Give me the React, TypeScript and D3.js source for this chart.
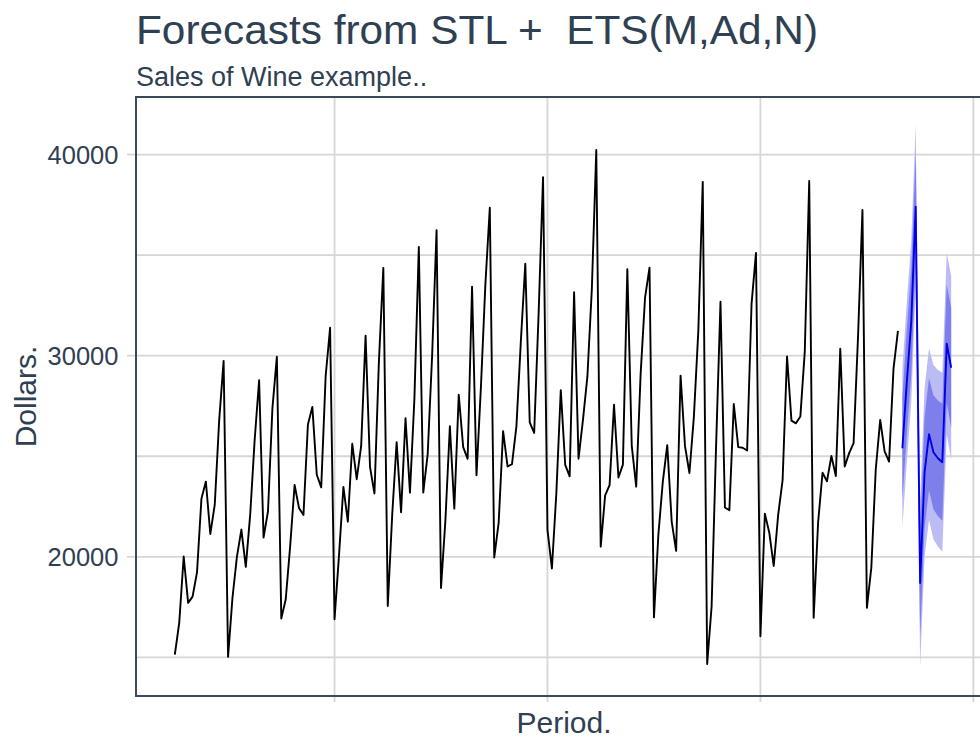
import React from "react";
import * as d3 from "d3";

// Monthly wine sales, Jan 1980 – Aug 1993
const START_YEAR = 1980;
const sales: number[] = [
  15136, 16733, 20016, 17708, 18019, 19227, 22893, 23739, 21133, 22591, 26786, 29740,
  15028, 17977, 20008, 21354, 19498, 22125, 25817, 28779, 20960, 22254, 27392, 29945,
  16933, 17892, 20533, 23569, 22417, 22084, 26580, 27454, 24081, 23451, 28991, 31386,
  16896, 20045, 23471, 21747, 25621, 23859, 25500, 30998, 24475, 23145, 29701, 34365,
  17556, 22077, 25702, 22214, 26886, 23191, 27831, 35406, 23195, 25110, 30009, 36242,
  18450, 21845, 26488, 22394, 28057, 25451, 24872, 33424, 24052, 28449, 33533, 37351,
  19969, 21701, 26249, 24493, 24603, 26485, 30723, 34569, 26689, 26157, 32064, 38870,
  21337, 19419, 23166, 28286, 24570, 24001, 33151, 24878, 26804, 28967, 33311, 40226,
  20504, 23060, 23562, 27562, 23940, 24584, 34303, 25517, 23494, 29095, 32903, 34379,
  16991, 21109, 23740, 25552, 21752, 20294, 29009, 25500, 24166, 26960, 31222, 38641,
  14672, 17543, 25453, 32683, 22449, 22316, 27595, 25451, 25421, 25288, 32568, 35110,
  16052, 22146, 21198, 19543, 22084, 23816, 29961, 26773, 26635, 26972, 30207, 38687,
  16974, 21697, 24179, 23757, 25013, 24019, 30345, 24488, 25156, 25650, 30923, 37240,
  17466, 19463, 24352, 26805, 25236, 24735, 29356, 31234,
];

// Forecasts Sep 1993 – Aug 1994
const fcMean: number[] = [25400, 28700, 31700, 37400, 18700, 24200, 26100, 25200, 24900, 24700, 30600, 29400];
const lo80: number[] = [22840, 26100, 29060, 34720, 15990, 21450, 23310, 22370, 22030, 21790, 27660, 26420];
const hi80: number[] = [27960, 31300, 34340, 40080, 21410, 26950, 28890, 28030, 27770, 27610, 33540, 32380];
const lo95: number[] = [21480, 24720, 27660, 33300, 14540, 19990, 21830, 20870, 20510, 20250, 26090, 24830];
const hi95: number[] = [29320, 32680, 35740, 41500, 22860, 28410, 30370, 29530, 29290, 29150, 35110, 33970];

const yTicks: number[] = [20000, 30000, 40000];
const yGrid: number[] = [15000, 20000, 25000, 30000, 35000, 40000];
const xGrid: number[] = [1983, 1987, 1991, 1995];

const TITLE = "Forecasts from STL +  ETS(M,Ad,N)";
const SUBTITLE = "Sales of Wine example..";
const X_LABEL = "Period.";
const Y_LABEL = "Dollars.";

const W = 980;
const H = 740;
const P = { left: 136, right: 990, top: 97, bottom: 696 };
const FONT = "'Liberation Sans', Arial, Helvetica, sans-serif";
const TEXT = "#2f4052";
const GRID = "#d6d6d6";
const BORDER = "#3b4a5a";

export default function App() {
  const x = d3.scaleLinear().domain([1979.2708, 1995.3125]).range([P.left, P.right]);
  const y = d3.scaleLinear().domain([13080, 42860]).range([P.bottom, P.top]);

  const obs = sales.map((v, i) => ({ t: START_YEAR + i / 12, v }));
  const fcStart = START_YEAR + sales.length / 12;
  const fc = fcMean.map((v, i) => ({
    t: fcStart + i / 12,
    v,
    l80: lo80[i],
    h80: hi80[i],
    l95: lo95[i],
    h95: hi95[i],
  }));

  const line = d3
    .line<{ t: number; v: number }>()
    .x((d) => x(d.t))
    .y((d) => y(d.v));
  const area95 = d3
    .area<(typeof fc)[number]>()
    .x((d) => x(d.t))
    .y0((d) => y(d.l95))
    .y1((d) => y(d.h95));
  const area80 = d3
    .area<(typeof fc)[number]>()
    .x((d) => x(d.t))
    .y0((d) => y(d.l80))
    .y1((d) => y(d.h80));

  return (
    <svg
      width={W}
      height={H}
      style={{ position: "absolute", left: 0, top: 0, background: "#fff" }}
      fontFamily={FONT}
    >
      <defs>
        <clipPath id="panel">
          <rect x={P.left} y={P.top} width={P.right - P.left} height={P.bottom - P.top} />
        </clipPath>
      </defs>
      <rect x={0} y={0} width={W} height={H} fill="#fff" />

      {/* title */}
      <text
        x={P.left}
        y={43.5}
        fontSize={41}
        fill={TEXT}
        textLength={682}
        lengthAdjust="spacingAndGlyphs"
        style={{ whiteSpace: "pre" }}
      >
        {TITLE}
      </text>
      <text x={P.left} y={86} fontSize={27} fill={TEXT}>
        {SUBTITLE}
      </text>

      {/* grid */}
      <g clipPath="url(#panel)">
        {yGrid.map((v) => (
          <line key={"gy" + v} x1={P.left} x2={P.right} y1={y(v)} y2={y(v)} stroke={GRID} strokeWidth={1.8} />
        ))}
        {xGrid.map((t) => (
          <line key={"gx" + t} x1={x(t)} x2={x(t)} y1={P.top} y2={P.bottom} stroke={GRID} strokeWidth={1.8} />
        ))}
        <path d={area95(fc) || ""} fill="#bcbcf5" stroke="none" />
        <path d={area80(fc) || ""} fill="#7f7fec" stroke="none" />
        <path d={line(obs) || ""} fill="none" stroke="#000" strokeWidth={1.9} strokeLinejoin="round" />
        <path d={line(fc) || ""} fill="none" stroke="#0000e8" strokeWidth={1.9} strokeLinejoin="round" />
      </g>

      {/* panel border */}
      <rect
        x={P.left}
        y={P.top}
        width={P.right - P.left}
        height={P.bottom - P.top}
        fill="none"
        stroke={BORDER}
        strokeWidth={2}
      />

      {/* y ticks */}
      {yTicks.map((v) => (
        <g key={"ty" + v}>
          <line x1={P.left - 9} x2={P.left - 1} y1={y(v)} y2={y(v)} stroke={GRID} strokeWidth={1.8} />
          <text x={118.5} y={y(v)} dy="0.36em" textAnchor="end" fontSize={25.5} fill={TEXT}>
            {v}
          </text>
        </g>
      ))}
      {/* x ticks */}
      {xGrid.map((t) => (
        <line key={"tx" + t} x1={x(t)} x2={x(t)} y1={P.bottom + 1} y2={P.bottom + 6} stroke={GRID} strokeWidth={1.8} />
      ))}

      {/* axis titles */}
      <text x={(P.left + 992) / 2} y={733} textAnchor="middle" fontSize={30} fill={TEXT}>
        {X_LABEL}
      </text>
      <text
        transform={`translate(35.5, ${(P.top + P.bottom) / 2}) rotate(-90)`}
        textAnchor="middle"
        fontSize={30}
        fill={TEXT}
      >
        {Y_LABEL}
      </text>
    </svg>
  );
}
